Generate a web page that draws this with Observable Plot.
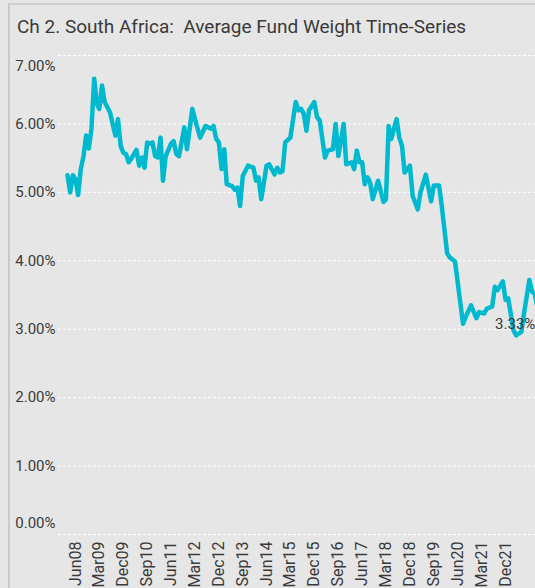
<!DOCTYPE html>
<html>
<head>
<meta charset="utf-8">
<script src="https://cdn.jsdelivr.net/npm/d3@7"></script>
<script src="https://cdn.jsdelivr.net/npm/@observablehq/plot@0.6"></script>
<style>
  html, body { margin: 0; padding: 0; width: 535px; height: 588px; overflow: hidden; background: #e6e6e6; }
  #frame { position: absolute; left: 8px; top: 3px; width: 540px; height: 600px; border-left: 2px solid #c9c9c9; border-top: 2px solid #cfcfcf; background: #e6e6e6; }
  #title { position: absolute; left: 17px; top: 15px; font-family: 'Liberation Sans Narrow', Roboto, sans-serif; font-size: 19px; line-height: 24px; color: #3a3a3a; white-space: pre; }
  #chart { position: absolute; left: 0; top: 45px; }
</style>
</head>
<body>
<div id="frame"></div>
<div id="title">Ch 2. South Africa:  Average Fund Weight Time-Series</div>
<div id="chart"></div>
<script>
const months = ["2008-03","2008-04","2008-05","2008-06","2008-07","2008-08","2008-09","2008-10","2008-11","2008-12",
"2009-01","2009-02","2009-03","2009-04","2009-05","2009-07","2009-08","2009-09","2009-10","2009-11","2009-12",
"2010-01","2010-02","2010-03","2010-05","2010-06","2010-07","2010-08","2010-09","2010-10","2010-11","2010-12",
"2011-01","2011-02","2011-03","2011-04","2011-06","2011-07","2011-08","2011-09","2011-11","2011-12",
"2012-02","2012-04","2012-05","2012-07","2012-09","2012-10","2012-11","2012-12",
"2013-01","2013-02","2013-03","2013-05","2013-06","2013-07","2013-08","2013-09","2013-11",
"2014-01","2014-02","2014-03","2014-04","2014-06","2014-07","2014-09","2014-10","2014-11","2014-12",
"2015-01","2015-03","2015-05","2015-06","2015-07","2015-08","2015-09","2015-10","2015-12",
"2016-01","2016-02","2016-04","2016-05","2016-07","2016-08","2016-09","2016-11","2016-12",
"2017-02","2017-03","2017-04","2017-05","2017-06","2017-07","2017-08","2017-09","2017-10","2017-12",
"2018-02","2018-03","2018-04","2018-05","2018-07","2018-08","2018-09","2018-10","2018-12",
"2019-01","2019-03","2019-04","2019-06","2019-08","2019-09","2019-11","2019-12",
"2020-02","2020-03","2020-05","2020-08","2020-09","2020-11",
"2021-01","2021-02","2021-04","2021-05","2021-07","2021-08","2021-09","2021-11","2021-12",
"2022-01","2022-02","2022-03","2022-04","2022-06","2022-07","2022-09","2022-10","2022-11","2022-12"];

const weights = [5.25,5.00,5.25,5.19,4.96,5.34,5.53,5.83,5.64,5.93,
6.66,6.29,6.22,6.56,6.32,6.17,6.00,5.83,6.07,5.68,5.58,
5.56,5.44,5.49,5.62,5.39,5.51,5.36,5.73,5.71,5.73,5.53,
5.51,5.80,5.17,5.53,5.71,5.75,5.56,5.53,5.95,5.63,
6.22,5.93,5.80,5.97,5.93,5.97,5.78,5.73,
5.34,5.63,5.12,5.09,5.04,5.07,4.80,5.24,5.39,
5.36,5.17,5.22,4.90,5.39,5.41,5.26,5.36,5.29,5.31,
5.73,5.80,6.32,6.20,6.22,6.15,5.90,6.20,6.32,
6.10,6.05,5.51,5.61,5.63,6.00,5.53,6.00,5.41,
5.44,5.34,5.61,5.44,5.44,5.12,5.22,5.14,4.90,5.17,
4.86,4.90,5.97,5.78,6.07,5.80,5.68,5.29,5.39,
4.95,4.75,5.00,5.26,4.87,5.10,5.10,4.80,
4.11,4.05,3.99,3.08,3.18,3.35,
3.16,3.25,3.23,3.30,3.33,3.62,3.57,3.70,3.43,
3.45,3.21,2.99,2.91,2.96,3.23,3.72,3.55,3.52,3.33];

const yTicks = [0, 1, 2, 3, 4, 5, 6, 7];
const xTickLabels = ["Jun08","Mar09","Dec09","Sep10","Jun11","Mar12","Dec12","Sep13","Jun14","Mar15","Dec15","Sep16","Jun17","Mar18","Dec18","Sep19","Jun20","Mar21","Dec21"];
const lastLabel = "3.33%";

const monthNames = ["Jan","Feb","Mar","Apr","May","Jun","Jul","Aug","Sep","Oct","Nov","Dec"];
const parseMonth = s => { const [y, m] = s.split("-").map(Number); return new Date(Date.UTC(y, m - 1, 1)); };
const parseTick = s => new Date(Date.UTC(2000 + +s.slice(3), monthNames.indexOf(s.slice(0, 3)), 1));
const data = months.map((m, i) => ({date: parseMonth(m), value: weights[i]}));
const tickDates = xTickLabels.map(parseTick);
const fmtTick = d => monthNames[d.getUTCMonth()] + String(d.getUTCFullYear() % 100).padStart(2, "0");
const fmtPct = v => v.toFixed(2) + "%";
const last = data[data.length - 1];

const font = "'Liberation Sans Narrow', Roboto, sans-serif";
const txt = "#3a3a3a";

const chart = Plot.plot({
  width: 535,
  height: 543,
  marginLeft: 58,
  marginRight: 0,
  marginTop: 10,
  marginBottom: 54,
  style: {background: "transparent", fontFamily: font, fontSize: "15px", color: txt, overflow: "hidden"},
  x: {type: "utc", domain: [new Date(Date.UTC(2007, 10, 19)), new Date(Date.UTC(2022, 10, 10))]},
  y: {domain: [0, 7]},
  marks: [
    Plot.gridY(yTicks, {stroke: "#ffffff", strokeOpacity: 1, strokeWidth: 1, strokeDasharray: "3,2"}),
    Plot.axisY(yTicks.filter(t => t > 0 && t < 7), {tickSize: 0, tickPadding: 3, tickFormat: fmtPct, fill: txt, fontSize: 15, label: null}),
    Plot.axisY([7], {tickSize: 0, tickPadding: 3, tickFormat: fmtPct, fill: txt, fontSize: 15, dy: 11, label: null}),
    Plot.axisY([0], {tickSize: 0, tickPadding: 3, tickFormat: fmtPct, fill: txt, fontSize: 15, dy: -11, label: null}),
    Plot.axisX(tickDates, {tickSize: 0, tickPadding: 7, tickRotate: -90, tickFormat: fmtTick, fill: txt, fontSize: 16, label: null}),
    Plot.lineY(data, {x: "date", y: "value", stroke: "#00b9cf", strokeWidth: 4.5, strokeLinejoin: "round", strokeLinecap: "round", clip: true}),
    Plot.text([last], {x: "date", y: "value", text: () => lastLabel, textAnchor: "end", dx: -2, dy: 18, fill: txt, fontSize: 15})
  ]
});
document.getElementById("chart").appendChild(chart);
</script>
</body>
</html>
